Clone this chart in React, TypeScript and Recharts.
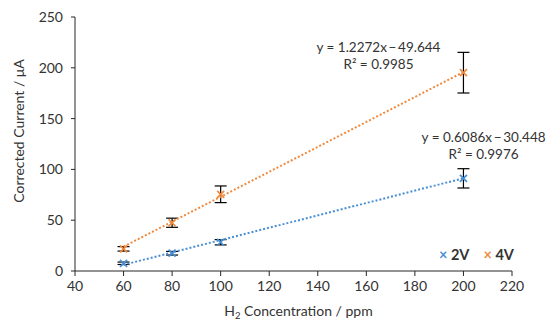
import {
  ComposedChart,
  Scatter,
  XAxis,
  YAxis,
  ErrorBar,
  ReferenceDot,
  Label,
} from "recharts";

// ── Data ──────────────────────────────────────────────────────────────────────
const concentrations = [60, 80, 100, 200];
const current2V = [7.6, 17.5, 28.3, 91.2];
const error2V = [1.2, 1.8, 2.6, 9.5];
const current4V = [21.8, 47.5, 75.5, 195.2];
const error4V = [2.2, 4.5, 8.2, 20];

// trendline endpoints (from the fitted equations shown on the chart)
const trendX = [60, 200];
const trend2V = [6.07, 91.27];
const trend4V = [23.99, 195.8];

const xTicks = [40, 60, 80, 100, 120, 140, 160, 180, 200, 220];
const yTicks = [0, 50, 100, 150, 200, 250];

// ── Theme ─────────────────────────────────────────────────────────────────────
const BLUE = "#4a8fd3";
const ORANGE = "#ef8a3e";
const TEXT = "#333333";
const AXIS = "#262626";
const FONT = "Lato, 'Open Sans', sans-serif";

const points2V = concentrations.map((x, i) => ({ x, y: current2V[i], err: error2V[i] }));
const points4V = concentrations.map((x, i) => ({ x, y: current4V[i], err: error4V[i] }));
const line2V = trendX.map((x, i) => ({ x, y: trend2V[i] }));
const line4V = trendX.map((x, i) => ({ x, y: trend4V[i] }));

function Cross(color: string) {
  return (props: any) => {
    const { cx, cy } = props;
    if (cx == null || cy == null) return <g />;
    const s = 3.5;
    return (
      <g stroke={color} strokeWidth={1.7}>
        <line x1={cx - s} y1={cy - s} x2={cx + s} y2={cy + s} />
        <line x1={cx - s} y1={cy + s} x2={cx + s} y2={cy - s} />
      </g>
    );
  };
}

function EquationLabel(line1: string, line2: string) {
  return (props: any) => {
    const vb = props.viewBox || {};
    const cx = (vb.x ?? vb.cx ?? 0) + (vb.width ?? 0) / 2;
    const cy = (vb.y ?? vb.cy ?? 0) + (vb.height ?? 0) / 2;
    return (
      <text x={cx} y={cy} textAnchor="middle" fill={TEXT} fontSize={13.5} fontFamily={FONT}>
        <tspan x={cx} dy={-4}>{line1}</tspan>
        <tspan x={cx} dy={17}>{line2}</tspan>
      </text>
    );
  };
}

const noShape = () => <g />;

export default function App() {
  return (
    <div style={{ position: "absolute", left: 0, top: 0, width: 550, height: 326, background: "#fff" }}>
      <ComposedChart
        width={550}
        height={326}
        margin={{ top: 17, right: 38, bottom: 0, left: 0 }}
      >
        <XAxis
          type="number"
          dataKey="x"
          domain={[40, 220]}
          ticks={xTicks}
          allowDataOverflow
          height={55}
          tick={{ fill: TEXT, fontSize: 14, fontFamily: FONT }}
          tickLine={{ stroke: AXIS }}
          tickSize={5}
          tickMargin={5}
          axisLine={{ stroke: AXIS }}
        >
          <Label
            position="insideBottom"
            content={(p: any) => {
              const vb = p.viewBox || {};
              const cx = vb.x + vb.width / 2 + 5;
              const y = vb.y + vb.height - 10;
              return (
                <text x={cx} y={y} textAnchor="middle" fill={TEXT} fontSize={14} fontFamily={FONT}>
                  H<tspan fontSize={9.5} dy={3}>2</tspan>
                  <tspan dy={-3}> Concentration  / ppm</tspan>
                </text>
              );
            }}
          />
        </XAxis>
        <YAxis
          type="number"
          dataKey="y"
          domain={[0, 250]}
          ticks={yTicks}
          width={75}
          allowDataOverflow
          tick={{ fill: TEXT, fontSize: 14, fontFamily: FONT }}
          tickLine={{ stroke: AXIS }}
          tickSize={4}
          tickMargin={8}
          axisLine={{ stroke: AXIS }}
        >
          <Label
            content={(p: any) => {
              const vb = p.viewBox || {};
              const cx = 24;
              const cy = vb.y + vb.height / 2 - 13;
              return (
                <text
                  x={cx}
                  y={cy}
                  transform={`rotate(-90 ${cx} ${cy})`}
                  textAnchor="middle"
                  fill={TEXT}
                  fontSize={14}
                  fontFamily={FONT}
                >
                  Corrected Current / μA
                </text>
              );
            }}
          />
        </YAxis>

        <Scatter
          data={line4V}
          line={{ stroke: ORANGE, strokeWidth: 2, strokeDasharray: "2 2" }}
          shape={noShape}
          isAnimationActive={false}
          legendType="none"
        />
        <Scatter
          data={line2V}
          line={{ stroke: BLUE, strokeWidth: 2, strokeDasharray: "2 2" }}
          shape={noShape}
          isAnimationActive={false}
          legendType="none"
        />
        <Scatter data={points2V} shape={Cross(BLUE)} isAnimationActive={false} name="2V">
          <ErrorBar dataKey="err" direction="y" width={6} stroke="#000" strokeWidth={1.2} />
        </Scatter>
        <Scatter data={points4V} shape={Cross(ORANGE)} isAnimationActive={false} name="4V">
          <ErrorBar dataKey="err" direction="y" width={6} stroke="#000" strokeWidth={1.2} />
        </Scatter>

        <ReferenceDot
          x={165}
          y={212}
          r={0}
          fill="none"
          stroke="none"
          label={EquationLabel("y = 1.2272x\u2009\u2212\u200949.644", "R\u00b2 = 0.9985")}
        />
        <ReferenceDot
          x={208.3}
          y={123}
          r={0}
          fill="none"
          stroke="none"
          label={EquationLabel("y = 0.6086x\u2009\u2212\u200930.448", "R\u00b2 = 0.9976")}
        />
      </ComposedChart>

      <div
        style={{
          position: "absolute",
          left: 439,
          top: 246,
          display: "flex",
          gap: 14,
          fontFamily: FONT,
          fontSize: 14.5,
          fontWeight: 700,
          color: TEXT,
        }}
      >
        <span><span style={{ color: BLUE }}>×</span> 2V</span>
        <span><span style={{ color: ORANGE }}>×</span> 4V</span>
      </div>
    </div>
  );
}
